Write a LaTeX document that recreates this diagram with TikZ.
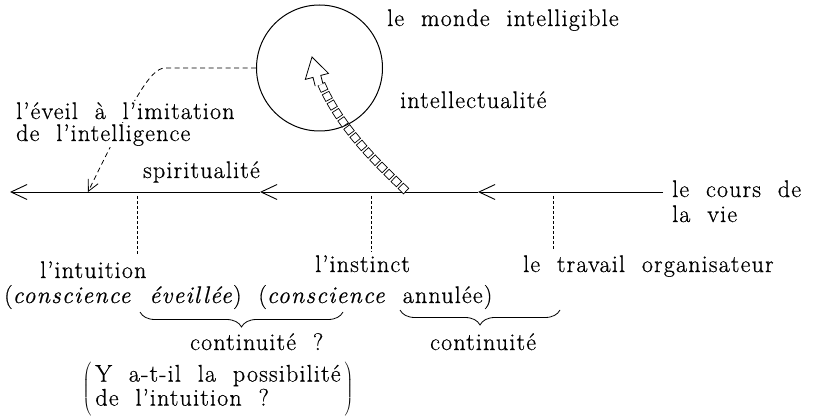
\documentclass[tikz,border=0pt]{standalone}
\usepackage{fontspec}
\setmainfont{Latin Modern Roman}[LetterSpace=5,WordSpace=2,FakeBold=0.6]
\usetikzlibrary{arrows.meta,decorations.pathreplacing,decorations.markings}
\begin{document}
\begin{tikzpicture}[x=1pt,y=-1pt,
  every node/.style={inner sep=0pt,font=\fontsize{24}{24}\selectfont},
  lbl/.style={anchor=base west},
  hide/.style={anchor=base west,fill=white,inner sep=1pt},
  tickline/.style={dash pattern=on 3pt off 2pt,line width=0.7pt},
  mainarrow/.style={-{Straight Barb[length=16pt,width=15pt]},line width=0.9pt},
  dashedarrow/.style={dash pattern=on 5pt off 3.5pt,line width=0.8pt,-{Straight Barb[length=11pt,width=11pt]}},
  sq/.style={draw,fill=white,minimum size=7.5pt,inner sep=0pt,transform shape,line width=0.7pt},
  headstyle/.style={line width=0.8pt,fill=white,line join=miter},
  bracestyle/.style={decorate,decoration={brace,mirror,amplitude=15pt},line width=0.8pt}]
\useasboundingbox (0,0) rectangle (825,417);

% circle
\node (world) [circle,draw,line width=1pt,minimum size=126pt,inner sep=0pt] at (319.5,68) {};

% main line
\coordinate (lineR) at (663,192);
\coordinate (a1) at (478,192);
\coordinate (a2) at (260,192);
\coordinate (lineL) at (10,192);
\coordinate (dashend) at (88,192);
\coordinate (hs) at (407,192);
\coordinate (ht) at (312,57);
\draw[mainarrow] (lineR) -- (a1);
\draw[mainarrow] (a1) -- (a2);
\draw[mainarrow] (a2) -- (lineL);

% hollow square arrow
\path[postaction={decorate},decoration={markings,
  mark=between positions 5pt and -30pt step 10pt with {\node[sq]{};}}]
  (hs) .. controls (380,165) and (328,120) .. (ht);
\draw[headstyle] (315.2,86.1) -- (313.0,77.4) -- (305.3,79.4) -- (ht) -- (328.5,73.4) -- (320.8,75.4) -- (323.0,84.1);

% dashed arrow
\draw[dashedarrow] (world.west) -- (165,68) .. controls (150,68) and (132,102) .. (dashend);

% ticks
\coordinate (t1a) at (137,196); \coordinate (t1b) at (137,254);
\coordinate (t2a) at (371,196); \coordinate (t2b) at (371,252);
\coordinate (t3a) at (553,196); \coordinate (t3b) at (553,250);
\draw[tickline] (t1a) -- (t1b);
\draw[tickline] (t2a) -- (t2b);
\draw[tickline] (t3a) -- (t3b);

% texts
\node[lbl] (monde) at (387,26) {le monde intelligible};
\node[lbl] (intel) at (400,108) {intellectualité};
\node[hide] (eveil1) at (15,119) {l'éveil à l'imitation};
\node[hide] (eveil2) at (15,141) {de l'intelligence};
\node[lbl] (spirit) at (143,178) {spiritualité};
\node[lbl] (cours1) at (672,197) {le cours de};
\node[lbl] (cours2) at (672,222) {la vie};
\node[lbl] (intuition) at (40,278) {l'intuition};
\node[lbl] (instinct) at (315,272) {l'instinct};
\node[lbl] (travail) at (523,272) {le travail organisateur};
\node[lbl] (conscience) at (4,303) {(\textit{conscience éveillée}) (\textit{conscience} annulée)};
\node[lbl] (cont1) at (190,350) {continuité ?};
\node[lbl] (cont2) at (430,350) {continuité};
\node (question) at (218,389) {$\left(\rule[-22pt]{0pt}{56pt}\,\vcenter{\hbox{\begin{tabular}{@{}l@{}}Y a-t-il la possibilité\\de l'intuition ?\end{tabular}}}\,\right)$};

% braces
\coordinate (b1l) at (140,312); \coordinate (b1r) at (343,312);
\coordinate (b2l) at (400,310); \coordinate (b2r) at (560,310);
\draw[bracestyle] (b1l) -- (b1r);
\draw[bracestyle] (b2l) -- (b2r);
\end{tikzpicture}
\end{document}
